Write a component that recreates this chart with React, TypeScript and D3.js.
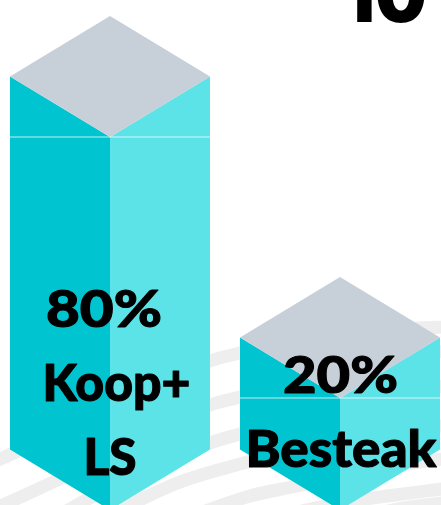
import React from "react";
import * as d3 from "d3";

const categories = ["Koop+ LS", "Besteak"];
const shares = [80, 20];
const percentLabels = ["80%", "20%"];
const nameLabels = [["Koop+", "LS"], ["Besteak"]];
const headline = "10";

const W = 441, H = 505;
const FONT = "Lato, 'Open Sans', sans-serif";
const LEFT = "#00c4cf", RIGHT = "#5ce3e8", TOP = "#c7cfd9", STRIPE = "#eeeeee";

// decorative background bands
const stripes: [number, number][][] = [
  [[-20, 468], [18, 451], [120, 403], [210, 361], [240, 353], [330, 334], [420, 328], [450, 327]],
  [[-20, 515], [55, 481], [130, 442], [210, 405], [240, 397], [340, 370], [450, 350]],
  [[60, 515], [90, 498], [150, 470], [210, 443], [240, 434], [340, 405], [450, 385]],
  [[110, 515], [180, 482], [240, 464], [340, 438], [450, 425]],
  [[195, 515], [250, 496], [297, 486], [370, 470], [450, 458]],
  [[285, 515], [340, 503], [395, 495], [450, 488]],
  [[370, 515], [410, 507], [450, 502]],
];

const x = d3.scaleBand<string>().domain(categories).range([10, 440]).paddingInner(30 / 230);
const y = d3.scaleLinear().domain([20, 80]).range([398, 137]);
const baseY = 510;
const rise = 60.5;

const stripeLine = d3.line<[number, number]>().x(d => d[0]).y(d => d[1]).curve(d3.curveCatmullRom);
const poly = d3.line<[number, number]>();

const textSpecs = [
  { text: percentLabels[0], x: 46, w: 116, y: 326.5, size: 51 },
  { text: nameLabels[0][0], x: 42.5, w: 148, y: 400.5, size: 51 },
  { text: nameLabels[0][1], x: 83.5, w: 53, y: 474.5, size: 51 },
  { text: percentLabels[1], x: 283, w: 115, y: 392.5, size: 51 },
  { text: nameLabels[1][0], x: 245.5, w: 191, y: 466.5, size: 51 },
];

export default function App() {
  const bw = x.bandwidth();
  return (
    <svg width={W} height={H} viewBox={`0 0 ${W} ${H}`}
      style={{ position: "absolute", left: 0, top: 0, display: "block", background: "#fff" }}>
      {stripes.map((s, i) => (
        <path key={i} d={stripeLine(s)!} fill="none" stroke={STRIPE} strokeWidth={13} />
      ))}
      {categories.map((c, i) => {
        const x0 = x(c)!, cx = x0 + bw / 2, x1 = x0 + bw;
        const v = y(shares[i]);
        const bottomSide = baseY - rise;
        return (
          <g key={c}>
            <path d={poly([[x0, v - rise], [cx, v], [cx, baseY], [x0, bottomSide]])! + "Z"} fill={LEFT} />
            <path d={poly([[cx, v], [x1, v - rise], [x1, bottomSide], [cx, baseY]])! + "Z"} fill={RIGHT} />
            <path d={poly([[cx, v - 2 * rise], [x1, v - rise], [cx, v], [x0, v - rise]])! + "Z"} fill={TOP} />
            <line x1={x0} x2={x1} y1={v} y2={v} stroke="#fff" strokeOpacity={0.75} strokeWidth={1} />
          </g>
        );
      })}
      <text x={342} y={22} textLength={85} lengthAdjust="spacingAndGlyphs"
        fontFamily="Inter, Lato, sans-serif" fontWeight={900} fontSize={78} fill="#000">{headline}</text>
      {textSpecs.map(t => (
        <text key={t.text} x={t.x} y={t.y} textLength={t.w} lengthAdjust="spacingAndGlyphs"
          fontFamily={FONT} fontWeight={900} fontSize={t.size} fill="#000"
          stroke="#000" strokeWidth={1.1} strokeLinejoin="round">{t.text}</text>
      ))}
    </svg>
  );
}
